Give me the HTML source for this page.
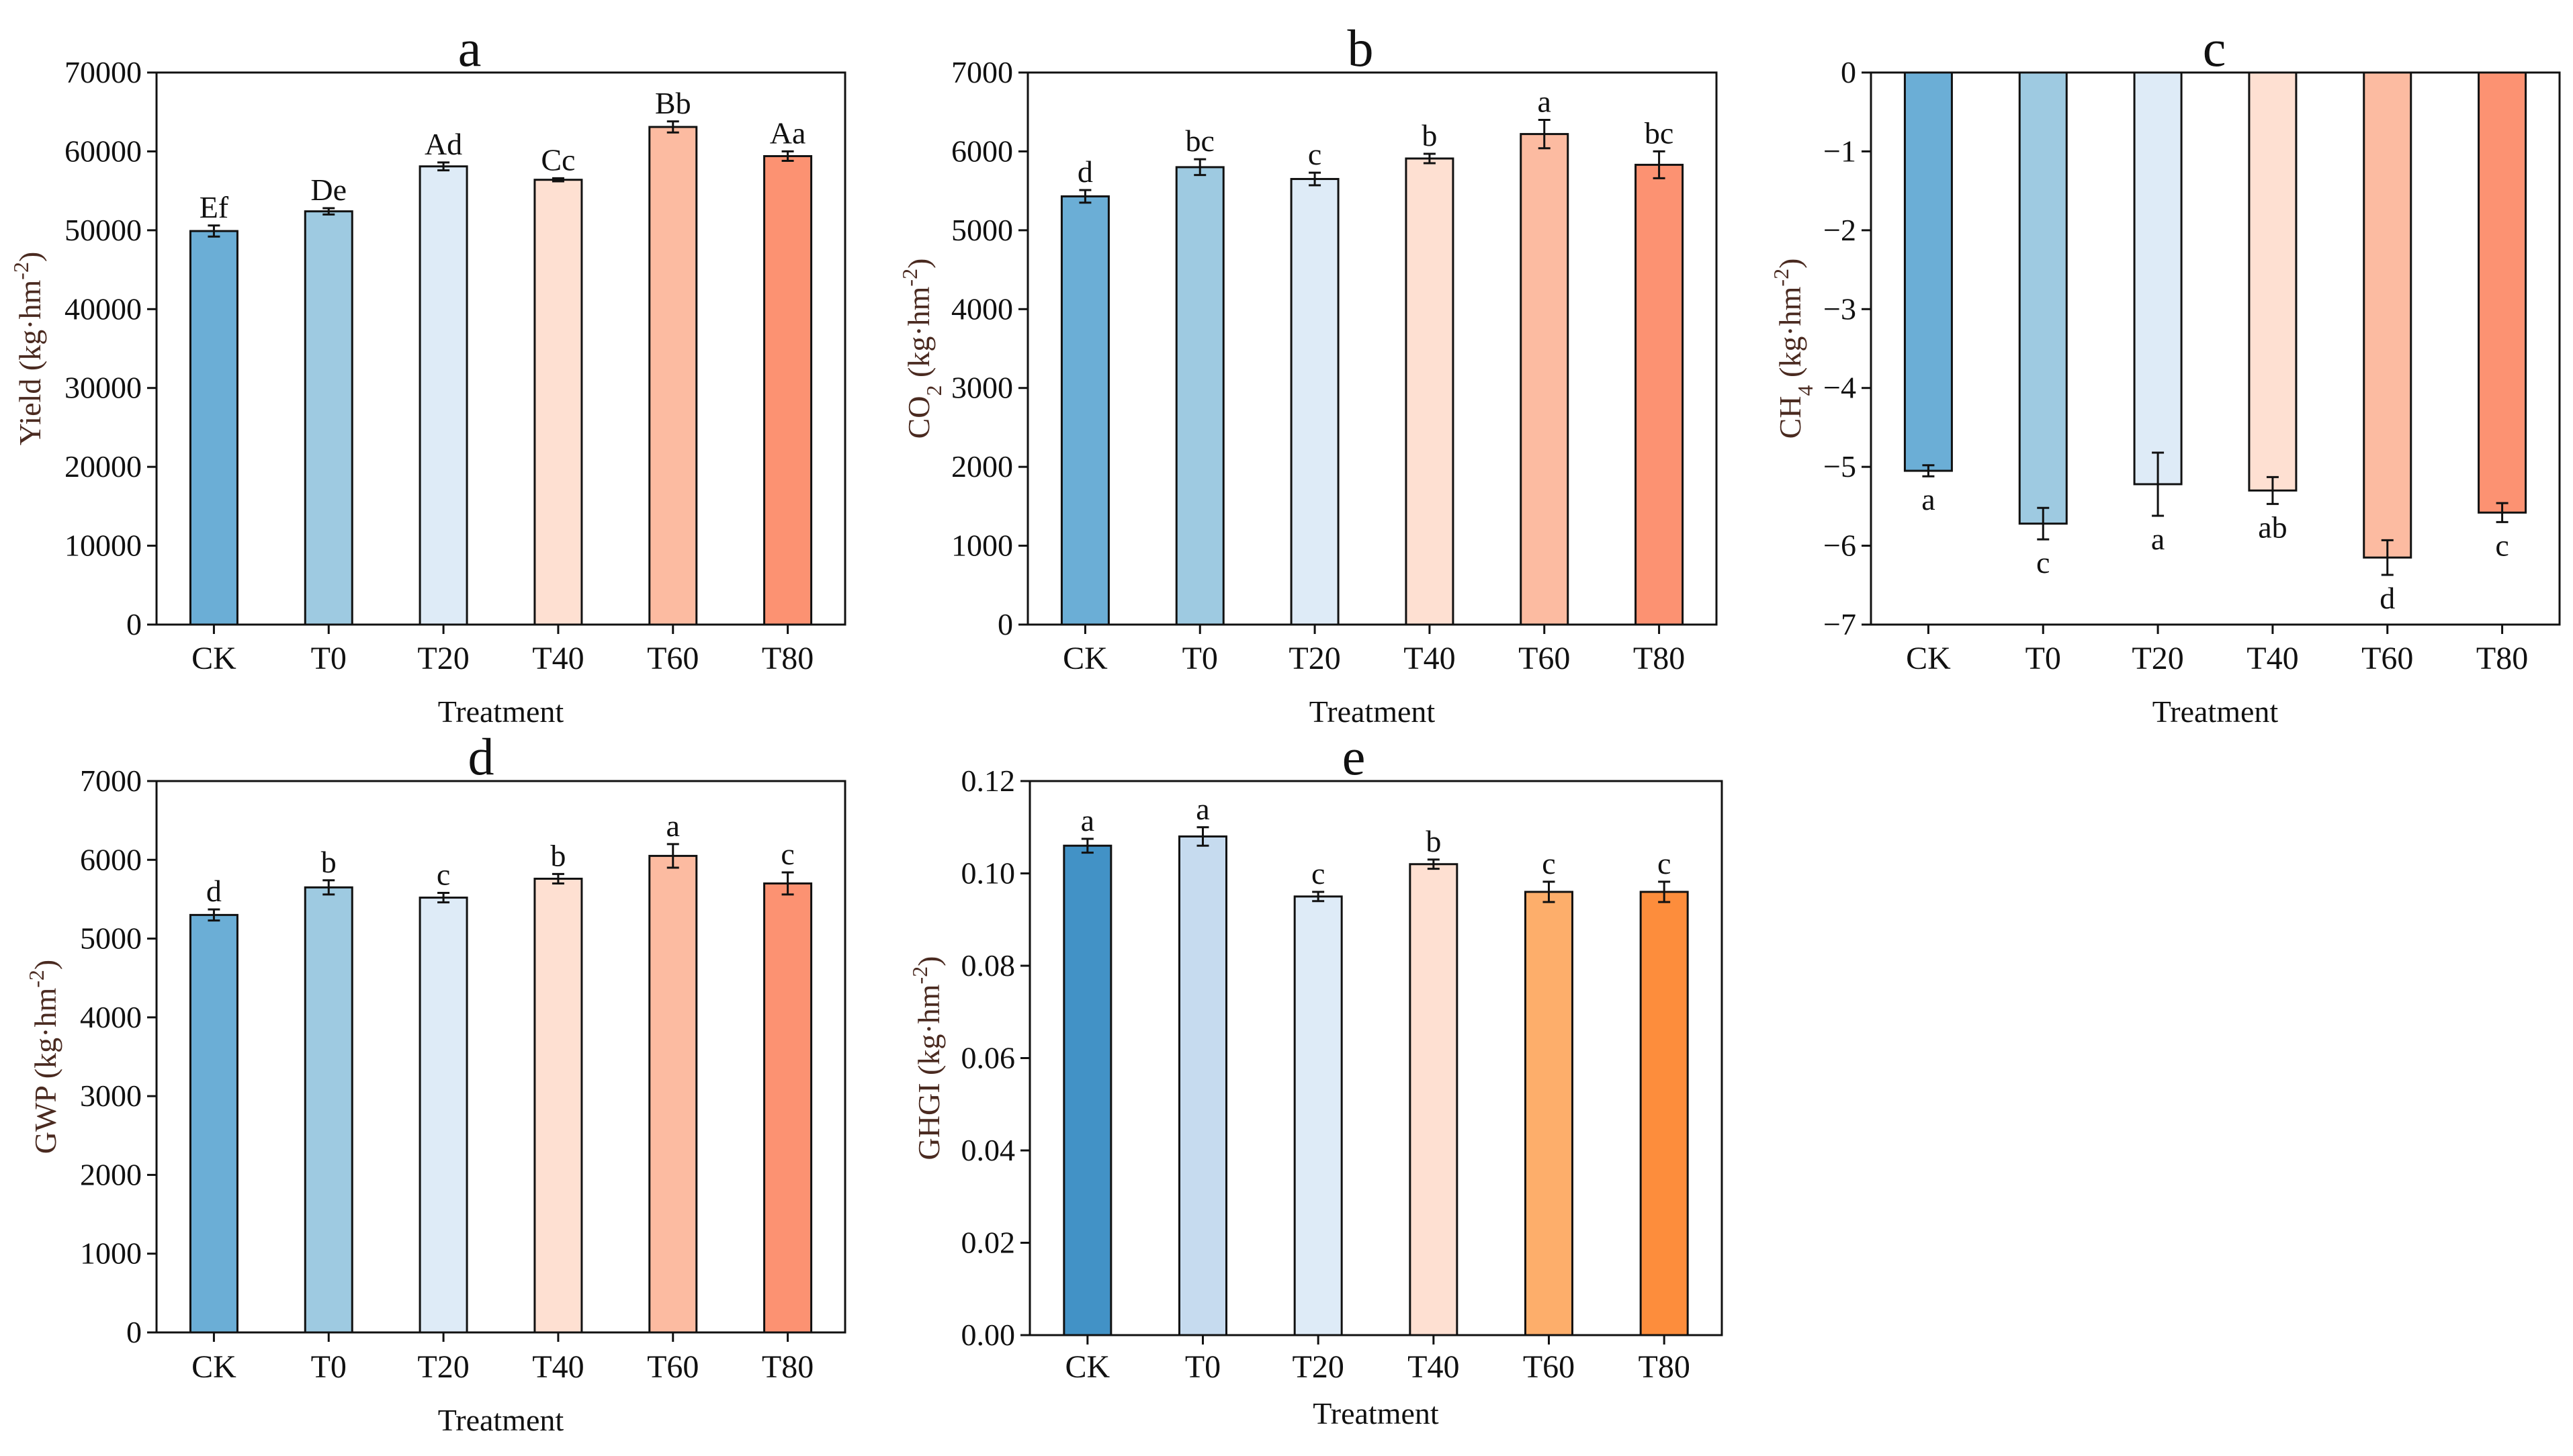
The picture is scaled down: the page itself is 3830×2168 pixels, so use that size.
<!DOCTYPE html>
<html><head><meta charset="utf-8"><style>
html,body{margin:0;padding:0;background:#fff;}
svg{display:block;font-family:"Liberation Serif",serif;}
</style></head><body>
<svg id="chart" width="3830" height="2168" viewBox="0 0 3830 2168" xmlns="http://www.w3.org/2000/svg"></svg>
<script>
const categories = ["CK","T0","T20","T40","T60","T80"];
const yieldVals = [49900,52400,58100,56400,63100,59400];
const yieldErr = [700,400,500,200,700,600];
const yieldLetters = ["Ef","De","Ad","Cc","Bb","Aa"];
const co2Vals = [5430,5800,5650,5910,6220,5830];
const co2Err = [80,100,80,60,180,170];
const co2Letters = ["d","bc","c","b","a","bc"];
const ch4Vals = [-5.05,-5.72,-5.22,-5.30,-6.15,-5.58];
const ch4Err = [0.07,0.20,0.40,0.17,0.22,0.12];
const ch4Letters = ["a","c","a","ab","d","c"];
const gwpVals = [5300,5650,5520,5760,6050,5700];
const gwpErr = [70,90,60,60,150,140];
const gwpLetters = ["d","b","c","b","a","c"];
const ghgiVals = [0.106,0.108,0.095,0.102,0.096,0.096];
const ghgiErr = [0.0015,0.002,0.001,0.001,0.0022,0.0022];
const ghgiLetters = ["a","a","c","b","c","c"];
const ticksA = [0,10000,20000,30000,40000,50000,60000,70000];
const ticksB = [0,1000,2000,3000,4000,5000,6000,7000];
const ticksC = [0,-1,-2,-3,-4,-5,-6,-7];
const ticksE = ["0.00","0.02","0.04","0.06","0.08","0.10","0.12"];

const pal1 = ["#6baed6","#9ecae1","#deebf7","#fee0d2","#fcbba1","#fc9272"];
const pal2 = ["#4292c6","#c6dbef","#deebf7","#fee0d2","#fdae6b","#fd8d3c"];
const svg = document.getElementById('chart');
const NS = "http://www.w3.org/2000/svg";
function el(tag, attrs, parent, text){
  const e = document.createElementNS(NS, tag);
  for (const k in attrs) e.setAttribute(k, attrs[k]);
  if (text !== undefined) e.textContent = text;
  (parent||svg).appendChild(e);
  return e;
}
function panel(o){
  const g = el('g', {});
  
  
  const {x0,x1,y0,y1,min,max} = o;
  const ys = v => y1 - (v - min) / (max - min) * (y1 - y0);
  const n = categories.length;
  const xs = i => x0 + (x1 - x0) * (i + 0.5) / n;
  const bw = 70;
  const base = ys(0);
  o.vals.forEach((v,i)=>{
    const yv = ys(v);
    const r = el('rect', {x: xs(i)-bw/2, y: Math.min(yv, base), width: bw, height: Math.abs(base-yv), fill: o.pal[i], stroke:'#111', 'stroke-width':3}, g);
    
    
    const e1 = ys(v + o.err[i]), e2 = ys(v - o.err[i]);
    const eb = el('path', {d:`M${xs(i)},${e1}V${e2}M${xs(i)-9},${e1}H${xs(i)+9}M${xs(i)-9},${e2}H${xs(i)+9}`, stroke:'#111','stroke-width':3, fill:'none'}, g);
    
    
    const ly = o.neg ? Math.max(e2, yv) + 50 : Math.min(e1, yv) - 12;
    const lt = el('text', {x: xs(i), y: ly, 'text-anchor':'middle', 'font-size':46, fill:'#111'}, g, o.letters[i]);
    
    
    const tk = el('line', {x1: xs(i), x2: xs(i), y1: y1, y2: y1+14, stroke:'#111','stroke-width':3}, g);
    
    
    const xl = el('text', {x: xs(i), y: o.xlab, 'text-anchor':'middle', 'font-size':48, fill:'#111'}, g, categories[i]);
    
    
  });
  o.ticks.forEach(t=>{
    const v = parseFloat(t);
    const yy = ys(v);
    const tk = el('line', {x1: x0-14, x2: x0, y1: yy, y2: yy, stroke:'#111','stroke-width':3}, g);
    
    
    const lab = (typeof t === 'number' && t < 0) ? '\u2212' + (-t) : String(t);
    const tl = el('text', {x: x0-22, y: yy+15, 'text-anchor':'end', 'font-size':46, fill:'#111'}, g, lab);
    
    
  });
  const box = el('rect', {x:x0, y:y0, width:x1-x0, height:y1-y0, fill:'none', stroke:'#111','stroke-width':3}, g);
  
  
  const ti = el('text', {x: o.tx, y: o.ty, 'text-anchor':'middle', 'font-size':78, fill:'#111'}, g, o.id);
  
  
  const xt = el('text', {x: (x0+x1)/2, y: o.xt, 'text-anchor':'middle', 'font-size':46, fill:'#111'}, g, 'Treatment');
  
  
  const yt = el('text', {x: 0, y: 0, 'text-anchor':'middle', 'font-size':46, fill:'#4a2a20', transform:`translate(${o.ytx},${(y0+y1)/2}) rotate(-90)`}, g);
  
  
  o.ytitle(yt);
}
function unit(t, pre, sub){
  el('tspan', {}, t, pre);
  if (sub) el('tspan', {'baseline-shift':'sub','font-size':32}, t, sub);
  el('tspan', {}, t, ' (kg\u00b7hm');
  el('tspan', {'baseline-shift':'super','font-size':32}, t, '-2');
  el('tspan', {}, t, ')');
}
panel({id:'a', x0:233,x1:1258,y0:108,y1:930,min:0,max:70000,vals:yieldVals,err:yieldErr,letters:yieldLetters,pal:pal1,ticks:ticksA,tx:699,ty:98,xlab:996,xt:1075,ytx:60,ytitle:t=>unit(t,'Yield')});
panel({id:'b', x0:1530,x1:2555,y0:108,y1:930,min:0,max:7000,vals:co2Vals,err:co2Err,letters:co2Letters,pal:pal1,ticks:ticksB,tx:2025,ty:98,xlab:996,xt:1075,ytx:1383,ytitle:t=>unit(t,'CO','2')});
panel({id:'c', x0:2785,x1:3810,y0:108,y1:930,min:-7,max:0,neg:true,vals:ch4Vals,err:ch4Err,letters:ch4Letters,pal:pal1,ticks:ticksC,tx:3296,ty:98,xlab:996,xt:1075,ytx:2680,ytitle:t=>unit(t,'CH','4')});
panel({id:'d', x0:233,x1:1258,y0:1163,y1:1984,min:0,max:7000,vals:gwpVals,err:gwpErr,letters:gwpLetters,pal:pal1,ticks:ticksB,tx:716,ty:1153,xlab:2051,xt:2130,ytx:83,ytitle:t=>unit(t,'GWP')});
panel({id:'e', x0:1533,x1:2563,y0:1163,y1:1988,min:0,max:0.12,vals:ghgiVals,err:ghgiErr,letters:ghgiLetters,pal:pal2,ticks:ticksE,tx:2015,ty:1153,xlab:2051,xt:2120,ytx:1398,ytitle:t=>unit(t,'GHGI')});
</script>
</body></html>
